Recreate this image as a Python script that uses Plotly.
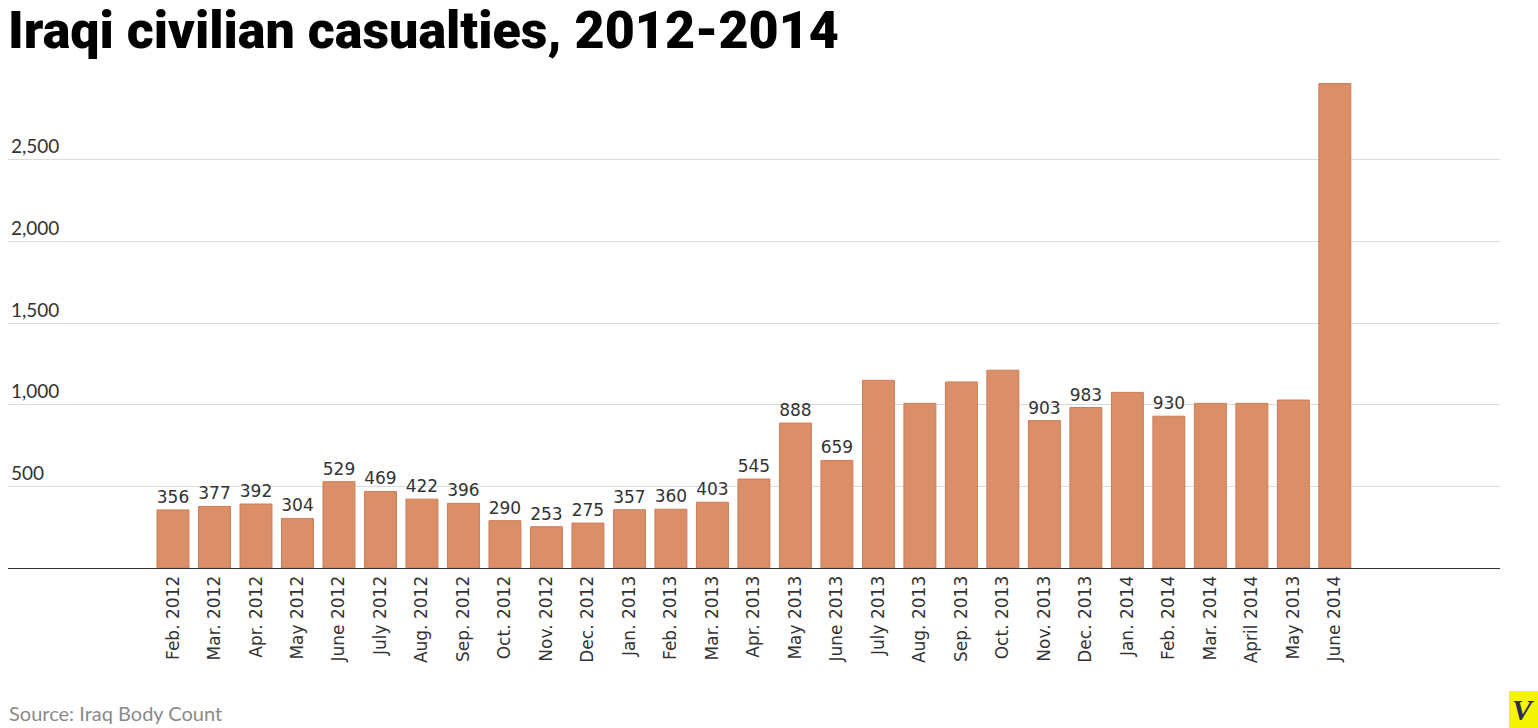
import plotly.graph_objects as go

months = ["Feb. 2012", "Mar. 2012", "Apr. 2012", "May 2012", "June 2012", "July 2012",
          "Aug. 2012", "Sep. 2012", "Oct. 2012", "Nov. 2012", "Dec. 2012", "Jan. 2013",
          "Feb. 2013", "Mar. 2013", "Apr. 2013", "May 2013", "June 2013", "July 2013",
          "Aug. 2013", "Sep. 2013", "Oct. 2013", "Nov. 2013", "Dec. 2013", "Jan. 2014",
          "Feb. 2014", "Mar. 2014", "April 2014", "May 2013", "June 2014"]
casualties = [356, 377, 392, 304, 529, 469, 422, 396, 290, 253, 275, 357,
              360, 403, 545, 888, 659, 1150, 1009, 1140, 1212, 903, 983, 1076,
              930, 1009, 1009, 1029, 2968]
labelled = [True] * 17 + [False, False, False, False, True, True, False,
                          True, False, False, False, False]
y_ticks = [500, 1000, 1500, 2000, 2500]

positions = list(range(len(months)))
texts = [f"{v:,}" if show else "" for v, show in zip(casualties, labelled)]

W, H = 1538, 728
L, R, T, B = 8, 38, 80, 160
plot_w = W - L - R
plot_h = H - T - B
base = H - B


def py(pix):
    return (base - pix) / plot_h


def px(pix):
    return (pix - L) / plot_w


fig = go.Figure()
fig.add_trace(go.Bar(
    x=positions, y=casualties, text=texts, textposition="outside",
    constraintext="none", cliponaxis=False,
    textfont=dict(family="DejaVu Sans", size=17, color="#333333"),
    marker=dict(color="#DA8F68", line=dict(color="#CC7D55", width=1)),
    hoverinfo="x+y",
))

fig.update_layout(
    width=W, height=H,
    margin=dict(l=L, r=R, t=T, b=B, autoexpand=False),
    paper_bgcolor="white", plot_bgcolor="white",
    bargap=0.23, showlegend=False,
    xaxis=dict(
        range=[-3.976, 31.98], tickmode="array", tickvals=positions, ticktext=months,
        tickangle=-90, showgrid=False, zeroline=False, showline=True,
        linecolor="#333333", linewidth=1, ticks="", automargin=False,
        tickfont=dict(family="DejaVu Sans", size=17, color="#333333"),
    ),
    yaxis=dict(
        range=[0, 2990], tickmode="array", tickvals=y_ticks,
        ticktext=[f"{v:,}" for v in y_ticks],
        ticklabelposition="inside top", showgrid=True, gridcolor="#DCDCDC",
        gridwidth=1, zeroline=False, showline=False, ticks="", automargin=False,
        tickfont=dict(family="Lato", size=19, color="#333333"),
    ),
    annotations=[
        dict(text="Iraqi civilian casualties, 2012-2014", xref="paper", yref="paper",
             x=px(6), y=py(31), xanchor="left", yanchor="middle", showarrow=False,
             font=dict(family="Roboto", size=52, color="#000000", weight=900)),
        dict(text="Source: Iraq Body Count", xref="paper", yref="paper",
             x=px(7), y=py(713), xanchor="left", yanchor="middle", showarrow=False,
             font=dict(family="Lato", size=20, color="#8A8A8A")),
        dict(text="<b><i>V</i></b>", xref="paper", yref="paper",
             x=px(1523), y=py(709), xanchor="center", yanchor="middle",
             showarrow=False,
             font=dict(family="Liberation Serif", size=30, color="#2B2A5E")),
    ],
    shapes=[
        dict(type="rect", xref="paper", yref="paper",
             x0=px(1509), x1=px(1538), y0=py(728), y1=py(691),
             fillcolor="#F5F500", line=dict(width=0), layer="below"),
    ],
)

fig.write_html("out.html", config={"displayModeBar": False},
               post_script="document.body.style.margin='0';")
